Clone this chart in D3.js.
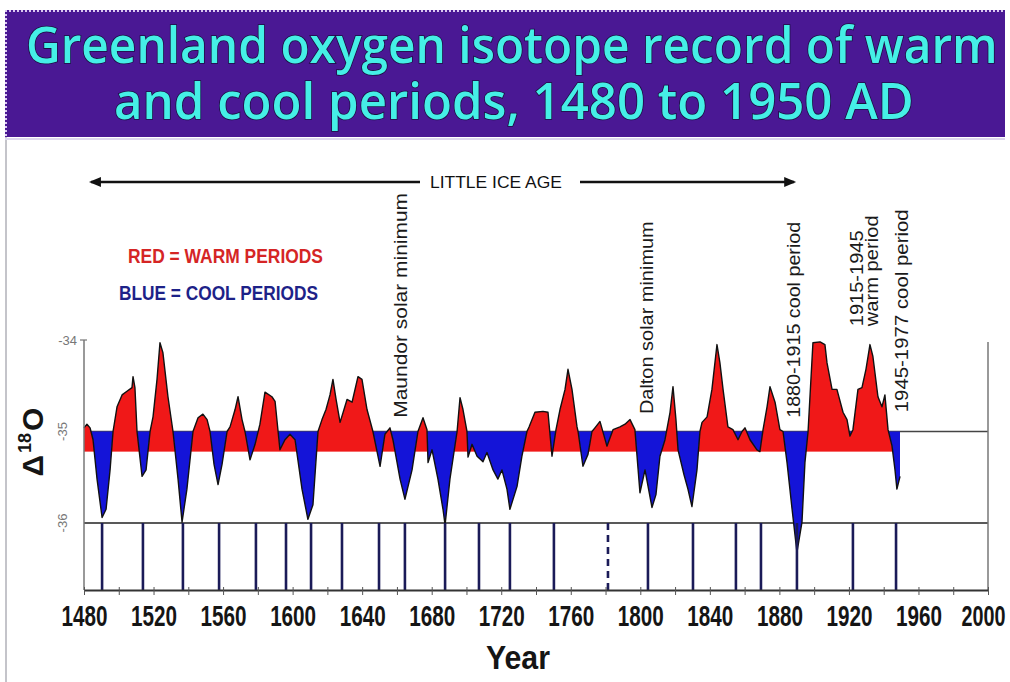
<!DOCTYPE html>
<html><head><meta charset="utf-8">
<script src="https://cdn.jsdelivr.net/npm/d3@7"></script>
<style>body{margin:0;background:#fff;} svg{display:block;}</style>
</head><body><svg id="c" width="1010" height="682"></svg>
<script>
// ---------- data ----------
const titleLines = ["Greenland oxygen isotope record of warm", "and cool periods, 1480 to 1950 AD"];
const isotopeRecord = [
[1480,-34.96],[1481.7,-34.92],[1483.5,-34.96],[1485.2,-35.09],[1487.5,-35.52],[1490.4,-35.94],[1492.7,-35.85],[1495.0,-35.42],[1496.7,-35.00],[1499.0,-34.73],
[1501.9,-34.60],[1504.7,-34.56],[1507.6,-34.52],[1508.2,-34.40],[1509.3,-34.52],[1510.5,-35.00],[1513.4,-35.49],[1515.7,-35.42],[1518.0,-35.00],[1519.7,-34.84],
[1522.0,-34.43],[1523.7,-34.03],[1525.4,-34.14],[1528.3,-34.62],[1531.2,-35.00],[1534.1,-35.52],[1536.4,-35.99],[1539.2,-35.63],[1542.7,-35.00],[1545.6,-34.85],
[1548.4,-34.81],[1550.8,-34.87],[1552.5,-35.00],[1554.8,-35.36],[1557.1,-35.58],[1559.4,-35.36],[1562.3,-35.00],[1564.0,-34.95],[1566.9,-34.76],[1568.6,-34.62],
[1570.9,-34.87],[1572.6,-35.00],[1575.5,-35.31],[1578.4,-35.14],[1581.2,-34.92],[1584.1,-34.57],[1588.1,-34.62],[1589.9,-34.67],[1592.7,-35.20],[1595.6,-35.09],
[1598.5,-35.03],[1601.4,-35.09],[1605.4,-35.63],[1608.8,-35.96],[1611.7,-35.80],[1614.6,-35.00],[1616.9,-34.87],[1619.2,-34.76],[1621.5,-34.60],[1623.2,-34.43],
[1625.0,-34.65],[1627.3,-34.90],[1631.3,-34.65],[1634.2,-34.68],[1637.6,-34.40],[1639.9,-34.43],[1642.8,-34.76],[1646.2,-35.00],[1650.3,-35.38],[1653.1,-35.03],
[1656.0,-34.96],[1657.7,-35.09],[1661.8,-35.52],[1664.6,-35.74],[1668.7,-35.42],[1672.1,-35.00],[1675.0,-34.85],[1677.3,-34.98],[1677.9,-35.34],[1680.2,-35.20],
[1683.6,-35.52],[1686.5,-35.85],[1687.7,-36.02],[1690.5,-35.52],[1694.6,-35.00],[1696.3,-34.63],[1698.0,-34.76],[1700.3,-35.00],[1700.9,-35.28],[1703.2,-35.14],
[1706.1,-35.27],[1709.5,-35.33],[1711.8,-35.23],[1715.3,-35.42],[1718.1,-35.52],[1720.4,-35.42],[1723.3,-35.63],[1725.0,-35.85],[1729.1,-35.60],[1731.9,-35.27],
[1734.8,-35.00],[1736.0,-34.95],[1739.4,-34.79],[1744.0,-34.78],[1746.9,-34.79],[1749.2,-35.27],[1751.5,-34.98],[1753.8,-34.76],[1756.7,-34.54],[1758.4,-34.32],
[1760.7,-34.54],[1763.6,-34.95],[1764.2,-35.00],[1767.0,-35.38],[1769.9,-35.25],[1772.2,-35.00],[1773.9,-34.96],[1776.8,-34.89],[1780.8,-35.16],[1784.3,-34.98],
[1788.3,-34.95],[1791.2,-34.92],[1794.1,-34.87],[1796.9,-34.98],[1799.8,-35.67],[1802.7,-35.42],[1806.7,-35.83],[1809.0,-35.69],[1811.3,-35.27],[1814.2,-35.09],
[1817.1,-34.79],[1818.8,-34.51],[1820.5,-34.87],[1821.7,-35.20],[1825.1,-35.47],[1827.4,-35.63],[1829.7,-35.82],[1832.6,-35.42],[1834.3,-35.00],[1835.5,-34.90],
[1838.4,-34.84],[1841.2,-34.54],[1844.1,-34.05],[1845.8,-34.25],[1847.6,-34.54],[1850.4,-34.95],[1853.3,-34.98],[1856.2,-35.09],[1858.5,-35.00],[1860.2,-34.96],
[1863.1,-35.09],[1867.1,-35.20],[1868.8,-35.22],[1870.6,-34.98],[1872.9,-34.73],[1874.6,-34.51],[1877.5,-34.68],[1880.3,-34.98],[1882.1,-35.00],[1884.4,-35.34],
[1887.3,-35.85],[1890.1,-36.32],[1893.0,-35.99],[1894.7,-35.34],[1896.5,-35.00],[1899.3,-34.03],[1903.4,-34.02],[1906.2,-34.05],[1907.4,-34.25],[1910.3,-34.54],
[1913.1,-34.54],[1916.6,-34.79],[1918.9,-34.87],[1920.6,-35.05],[1922.3,-34.98],[1925.2,-34.54],[1927.5,-34.52],[1929.8,-34.32],[1932.1,-34.05],[1933.8,-34.18],
[1936.7,-34.62],[1939.0,-34.73],[1940.7,-34.60],[1942.5,-34.98],[1944.8,-35.16],[1946.5,-35.42],[1947.6,-35.63],[1949.4,-35.49]
];
const warmBase = -35.22;   // lower edge of red fill
const coolBase = -35.0;    // upper edge of blue fill
const minimaYears = [1490.4,1513.9,1536.9,1557.7,1578.9,1596.2,1610.6,1628.4,1649.7,1664.6,1687.7,1707.2,1725.0,1750.3,1804.4,1830.3,1855.0,1869.4,1890.1,1922.3,1947.1];
const dashedMinima = [1781.4];
const tickYears = [1480,1500,1520,1540,1560,1580,1600,1620,1640,1660,1680,1700,1720,1740,1760,1780,1800,1820,1840,1860,1880,1900,1920,1940,1960,1980,2000];
const tickLabels = [1480,1520,1560,1600,1640,1680,1720,1760,1800,1840,1880,1920,1960,2000];
const yTickLabels = [-34,-35,-36];
const legendItems = ["RED = WARM PERIODS","BLUE = COOL PERIODS"];
const annotations = [
  {text:"Maundor solar  minimum", year:1665.7, bottom:-34.85, len:225},
  {text:"Dalton solar minimum", year:1807.3, bottom:-34.81, len:193},
  {text:"1880-1915 cool period", year:1892.0, bottom:-34.85, len:196},
  {text:"1915-1945", year:1928.1, bottom:-33.85, len:96},
  {text:"warm period", year:1937.0, bottom:-33.85, len:111},
  {text:"1945-1977 cool period", year:1954.0, bottom:-34.79, len:203}
];

// ---------- setup ----------
const svg = d3.select("#c");
const W = 1010, H = 682;
const x = d3.scaleLinear().domain([1480, 2000]).range([84, 988]);
const y = d3.scaleLinear().domain([-34, -36]).range([340, 523]);
const axisY = 590, plotTop = 340;
const font = "'Liberation Sans', Arial, sans-serif";

// fit a text to a target width by scaling along its writing direction
function fitText(sel, width, pre){
  sel.attr("x",0).attr("y",0);
  const natural = sel.node().getComputedTextLength();
  sel.attr("transform", `${pre} scale(${width/natural},1)`);
  return sel;
}

// frame
svg.append("rect").attr("width",W).attr("height",H).attr("fill","#fff");
svg.append("line").attr("x1",6).attr("x2",6).attr("y1",137).attr("y2",H).attr("stroke","#b0b0b8").attr("stroke-width",1.5);
svg.append("line").attr("x1",5).attr("x2",1005).attr("y1",139).attr("y2",139).attr("stroke","#ddd6ee").attr("stroke-width",2);

// title banner
svg.append("rect").attr("x",5).attr("y",10).attr("width",1000).attr("height",127).attr("fill","#4a1894");
svg.append("line").attr("x1",5).attr("x2",1005).attr("y1",11).attr("y2",11).attr("stroke","#d9c8f0").attr("stroke-width",2).attr("stroke-dasharray","2,2");
svg.append("line").attr("x1",6).attr("x2",6).attr("y1",10).attr("y2",137).attr("stroke","#d9c8f0").attr("stroke-width",2).attr("stroke-dasharray","2,2");
const titleSpecs = [{x:26,yb:63,len:972},{x:114,yb:119,len:800}];
titleLines.forEach((t,i)=>{
  const s = titleSpecs[i];
  const tt = svg.append("text").text(t)
    .attr("font-family","'Comic Sans MS','Open Sans',sans-serif").attr("font-size",50).attr("font-weight",600)
    .attr("fill","#45efe6").attr("stroke","#1a0f40").attr("stroke-width",1.6).attr("paint-order","stroke");
  fitText(tt, s.len, `translate(${s.x},${s.yb})`);
});

// ---------- plot ----------
const g = svg.append("g");
g.append("line").attr("x1",x(1480)).attr("x2",x(2000)).attr("y1",y(-35)).attr("y2",y(-35)).attr("stroke","#444").attr("stroke-width",1.5);
g.append("line").attr("x1",x(1480)).attr("x2",x(2000)).attr("y1",y(-36)).attr("y2",y(-36)).attr("stroke","#222").attr("stroke-width",1.6);

const defs = svg.append("defs");
const below = d3.area().x(d=>x(d[0])).y0(axisY).y1(d=>y(d[1]));
const above = d3.area().x(d=>x(d[0])).y0(plotTop-10).y1(d=>y(d[1]));
defs.append("clipPath").attr("id","belowCurve").append("path").attr("d",below(isotopeRecord));
defs.append("clipPath").attr("id","aboveCurve").append("path").attr("d",above(isotopeRecord));
const x0 = x(isotopeRecord[0][0]), x1 = x(isotopeRecord[isotopeRecord.length-1][0]);
g.append("rect").attr("x",x0).attr("width",x1-x0).attr("y",plotTop-10).attr("height",y(warmBase)-(plotTop-10))
  .attr("fill","#f01818").attr("clip-path","url(#belowCurve)");
g.append("rect").attr("x",x0).attr("width",x1-x0).attr("y",y(coolBase)).attr("height",axisY-y(coolBase))
  .attr("fill","#1414d8").attr("clip-path","url(#aboveCurve)");
g.append("path").attr("d",d3.line().x(d=>x(d[0])).y(d=>y(d[1]))(isotopeRecord))
  .attr("fill","none").attr("stroke","#111").attr("stroke-width",1.4).attr("stroke-linejoin","round");

// minima markers
g.selectAll(".mn").data(minimaYears).join("line").attr("class","mn")
  .attr("x1",d=>x(d)).attr("x2",d=>x(d)).attr("y1",y(-36)).attr("y2",axisY)
  .attr("stroke","#1b1b58").attr("stroke-width",2.6);
g.selectAll(".mnd").data(dashedMinima).join("line").attr("class","mnd")
  .attr("x1",d=>x(d)).attr("x2",d=>x(d)).attr("y1",y(-36)).attr("y2",axisY)
  .attr("stroke","#1b1b58").attr("stroke-width",2.6).attr("stroke-dasharray","7,5");

// axes frame
g.append("line").attr("x1",x(1480)).attr("x2",x(1480)).attr("y1",plotTop).attr("y2",axisY).attr("stroke","#777").attr("stroke-width",1.5);
g.append("line").attr("x1",x(2000)).attr("x2",x(2000)).attr("y1",plotTop+2).attr("y2",axisY).attr("stroke","#777").attr("stroke-width",1.5);
g.append("line").attr("x1",x(1480)-4).attr("x2",x(1480)+3).attr("y1",y(-34)).attr("y2",y(-34)).attr("stroke","#777").attr("stroke-width",1.2);

const xAxis = d3.axisBottom(x).tickValues(tickYears).tickSizeInner(5).tickSizeOuter(0)
  .tickFormat(d => tickLabels.includes(d) ? String(d) : "");
const ax = svg.append("g").attr("transform",`translate(0,${axisY})`).call(xAxis);
ax.select(".domain").attr("stroke","#333").attr("stroke-width",1.8);
ax.selectAll(".tick line").attr("stroke","#555").attr("y1",-3);
ax.selectAll(".tick text").attr("dy",0)
  .attr("font-family",font).attr("font-weight","bold").attr("font-size",29).attr("fill","#151515")
  .each(function(d){
    if(this.textContent) fitText(d3.select(this), d===2000 ? 44 : 46, `translate(${d===2000 ? -5 : 0},36)`);
  });

// y tick labels
yTickLabels.forEach((v,i)=>{
  const t = svg.append("text").text(String(v)).attr("font-family",font).attr("font-size",13).attr("fill","#777");
  if(i===0) t.attr("x",77).attr("y",y(v)+5).attr("text-anchor","end");
  else t.attr("transform",`translate(67,${y(v)}) rotate(-90)`).attr("text-anchor","middle");
});

// axis titles
fitText(svg.append("text").attr("text-anchor","middle").text("Year")
  .attr("font-family",font).attr("font-weight","bold").attr("font-size",33).attr("fill","#151515"), 64, "translate(518,669)");
const yl = svg.append("text").attr("transform","translate(43,442) rotate(-90)").attr("text-anchor","middle")
  .attr("font-family",font).attr("font-weight","bold").attr("font-size",30).attr("fill","#151515");
yl.append("tspan").text("Δ");
yl.append("tspan").text("18").attr("font-size",18).attr("dy",-12).attr("dx",2);
yl.append("tspan").text("O").attr("dy",12).attr("dx",2);

// legend
fitText(svg.append("text").text(legendItems[0]).attr("font-family",font).attr("font-weight","bold")
  .attr("font-size",20).attr("fill","#d52525"), 195, "translate(128,263)");
fitText(svg.append("text").text(legendItems[1]).attr("font-family",font).attr("font-weight","bold")
  .attr("font-size",20).attr("fill","#1d2288"), 199, "translate(119,300)");

// little ice age arrow
const arrowY = 182;
const leftTip = x(1484), rightTip = x(1888.5);
svg.append("line").attr("x1",leftTip).attr("x2",420).attr("y1",arrowY).attr("y2",arrowY).attr("stroke","#111").attr("stroke-width",2.6);
svg.append("line").attr("x1",580).attr("x2",rightTip).attr("y1",arrowY).attr("y2",arrowY).attr("stroke","#111").attr("stroke-width",2.6);
const ah = (tip,dir)=>`M${tip},${arrowY} L${tip+dir*12},${arrowY-5} L${tip+dir*12},${arrowY+5} Z`;
svg.append("path").attr("d",ah(leftTip-2,1)).attr("fill","#111");
svg.append("path").attr("d",ah(rightTip+2,-1)).attr("fill","#111");
fitText(svg.append("text").text("LITTLE ICE AGE").attr("font-family",font).attr("font-size",17)
  .attr("fill","#111"), 132, "translate(430,188)");

// rotated annotations
annotations.forEach(a=>{
  fitText(svg.append("text").text(a.text).attr("font-family",font).attr("font-size",19).attr("fill","#1a1a1a"),
    a.len, `translate(${x(a.year)},${y(a.bottom)}) rotate(-90)`);
});
</script></body></html>
